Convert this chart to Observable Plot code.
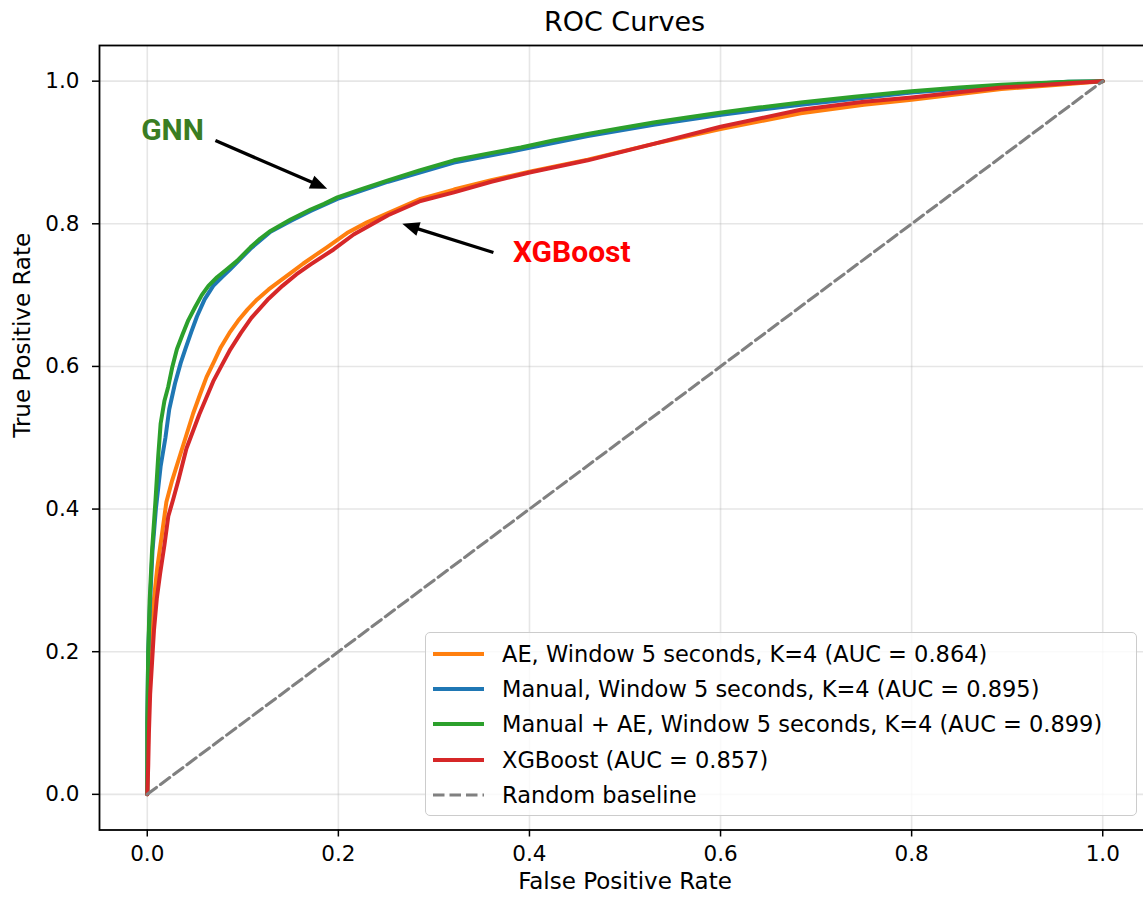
<!DOCTYPE html>
<html>
<head>
<meta charset="utf-8">
<script src="https://cdn.jsdelivr.net/npm/d3@7"></script>
<script src="https://cdn.jsdelivr.net/npm/@observablehq/plot@0.6"></script>
<style>
html,body{margin:0;padding:0;background:#fff;overflow:hidden}
#wrap{position:relative;width:1143px;height:902px;overflow:hidden;font-family:"DejaVu Sans",sans-serif;background:#fff}
#title{position:absolute;left:99px;width:1051px;top:0;height:40px;line-height:44px;text-align:center;font-size:27px;color:#000;white-space:nowrap}
#chart{position:absolute;left:0;top:40px;width:1151px}
#legend{position:absolute;left:425px;top:632px;width:712px;height:184px;border:1px solid #cccccc;border-radius:5px;background:rgba(255,255,255,0.8);box-sizing:border-box;padding-top:3px}
.row{height:35.4px;display:flex;align-items:center;font-size:22.5px;color:#000;white-space:nowrap}
.row svg{margin-left:7px;margin-right:18px;flex:none}
</style>
</head>
<body>
<div id="wrap">
  <div id="title"></div>
  <div id="chart"></div>
  <div id="legend"></div>
</div>
<script>
// ---------- data ----------
const titleText = "ROC Curves";
const xLabel = "False Positive Rate";
const yLabel = "True Positive Rate";
const ticks = [0, 0.2, 0.4, 0.6, 0.8, 1.0];

const seriesNames = [
  "AE, Window 5 seconds, K=4",
  "Manual, Window 5 seconds, K=4",
  "Manual + AE, Window 5 seconds, K=4",
  "XGBoost"
];
const seriesAUC = [0.864, 0.895, 0.899, 0.857];
const seriesColors = ["#ff7f0e", "#1f77b4", "#2ca02c", "#d62728"];

// AE
const fprAE = [0, 0.0008, 0.0016, 0.0033, 0.0068, 0.0105, 0.0155, 0.020, 0.026, 0.037, 0.048, 0.055, 0.062, 0.070, 0.077, 0.086, 0.095, 0.105, 0.115, 0.127, 0.139, 0.151, 0.163, 0.176, 0.188, 0.209, 0.230, 0.252, 0.286, 0.321, 0.360, 0.400, 0.461, 0.530, 0.600, 0.684, 0.750, 0.800, 0.894, 0.964, 1];
const tprAE = [0, 0.070, 0.132, 0.202, 0.272, 0.318, 0.366, 0.410, 0.440, 0.487, 0.534, 0.560, 0.585, 0.607, 0.627, 0.647, 0.664, 0.680, 0.694, 0.708, 0.720, 0.732, 0.744, 0.756, 0.767, 0.787, 0.802, 0.815, 0.835, 0.848, 0.861, 0.873, 0.890, 0.912, 0.933, 0.955, 0.967, 0.974, 0.989, 0.996, 1];

// Manual
const fprManual = [0, 0, 0.001, 0.003, 0.0055, 0.009, 0.014, 0.019, 0.023, 0.029, 0.035, 0.040, 0.046, 0.052, 0.060, 0.069, 0.078, 0.086, 0.094, 0.108, 0.129, 0.150, 0.171, 0.199, 0.252, 0.321, 0.391, 0.461, 0.530, 0.601, 0.684, 0.800, 0.894, 0.964, 1];
const tprManual = [0, 0.100, 0.200, 0.272, 0.342, 0.400, 0.460, 0.500, 0.540, 0.576, 0.605, 0.625, 0.648, 0.670, 0.694, 0.713, 0.725, 0.735, 0.746, 0.765, 0.789, 0.804, 0.818, 0.835, 0.859, 0.886, 0.904, 0.923, 0.939, 0.953, 0.967, 0.984, 0.994, 0.999, 1];

// Manual + AE
const fprManualAE = [0, 0, 0.001, 0.0025, 0.005, 0.0086, 0.0115, 0.014, 0.018, 0.022, 0.026, 0.031, 0.037, 0.043, 0.050, 0.057, 0.064, 0.073, 0.083, 0.094, 0.108, 0.118, 0.129, 0.150, 0.171, 0.185, 0.199, 0.225, 0.252, 0.285, 0.321, 0.355, 0.391, 0.425, 0.461, 0.495, 0.530, 0.565, 0.601, 0.640, 0.684, 0.740, 0.800, 0.850, 0.894, 0.930, 0.964, 1];
const tprManualAE = [0, 0.100, 0.200, 0.272, 0.342, 0.412, 0.475, 0.520, 0.552, 0.572, 0.598, 0.624, 0.645, 0.665, 0.683, 0.700, 0.713, 0.725, 0.736, 0.748, 0.767, 0.779, 0.790, 0.806, 0.820, 0.828, 0.837, 0.849, 0.861, 0.875, 0.889, 0.898, 0.907, 0.917, 0.926, 0.934, 0.942, 0.949, 0.956, 0.963, 0.970, 0.978, 0.986, 0.991, 0.995, 0.997, 0.999, 1];

// XGBoost
const fprXGB = [0, 0.001, 0.0017, 0.003, 0.005, 0.007, 0.010, 0.0135, 0.018, 0.022, 0.027, 0.0325, 0.041, 0.0545, 0.069, 0.0765, 0.087, 0.098, 0.109, 0.127, 0.1415, 0.156, 0.171, 0.195, 0.216, 0.252, 0.286, 0.321, 0.360, 0.400, 0.461, 0.530, 0.600, 0.684, 0.750, 0.800, 0.894, 0.964, 1];
const tprXGB = [0, 0.040, 0.085, 0.140, 0.185, 0.230, 0.275, 0.310, 0.350, 0.390, 0.413, 0.440, 0.485, 0.533, 0.579, 0.598, 0.624, 0.647, 0.668, 0.695, 0.713, 0.729, 0.743, 0.764, 0.785, 0.812, 0.832, 0.844, 0.859, 0.872, 0.889, 0.912, 0.936, 0.960, 0.971, 0.977, 0.991, 0.997, 1];

const baselineLabel = "Random baseline";
const baseFpr = [0, 1];
const baseTpr = [0, 1];

// annotations
const annTexts = ["GNN", "XGBoost"];
const annColors = ["#3a7d22", "#ff0000"];
const annX = [-0.0064, 0.3827];
const annY = [0.9307, 0.7597];
const arrowFromX = [0.0713, 0.3623];
const arrowFromY = [0.9167, 0.7597];
const arrowToX = [0.1883, 0.2669];
const arrowToY = [0.8490, 0.7999];

// ---------- build ----------
const fprs = [fprAE, fprManual, fprManualAE, fprXGB];
const tprs = [tprAE, tprManual, tprManualAE, tprXGB];
const seriesRows = seriesNames.map((name, i) => fprs[i].map((f, j) => ({series: name, fpr: f, tpr: tprs[i][j]})));
const baseRows = baseFpr.map((f, j) => ({fpr: f, tpr: baseTpr[j]}));

const W = 1151, H = 862, ML = 99, MR = 1, MT = 5, MB = 72.5;
const kx = (W - ML - MR) / 1.1, ky = (H - MT - MB) / 1.1;
const headL = 17, headW = 14;
const arrowHead = {
  draw(context) {
    context.moveTo(0, 0);
    context.lineTo(-headW / 2, headL);
    context.lineTo(headW / 2, headL);
    context.closePath();
  }
};
const arrows = arrowFromX.map((x1, i) => {
  const dxp = (arrowToX[i] - x1) * kx, dyp = -(arrowToY[i] - arrowFromY[i]) * ky;
  const len = Math.hypot(dxp, dyp), ux = dxp / len, uy = dyp / len;
  const back = headL - 3;
  return {
    x1, y1: arrowFromY[i], x2: arrowToX[i], y2: arrowToY[i],
    sx: arrowToX[i] - ux * back / kx, sy: arrowToY[i] + uy * back / ky,
    angle: Math.atan2(ux, -uy) * 180 / Math.PI
  };
});

document.getElementById("title").textContent = titleText;

const fmt = d3.format(".1f");
const plot = Plot.plot({
  width: W, height: H,
  marginLeft: ML, marginRight: MR, marginTop: MT, marginBottom: MB,
  style: {fontFamily: "'DejaVu Sans', sans-serif", fontSize: "21.5px", background: "white", overflow: "visible", maxWidth: "none", color: "#000"},
  x: {domain: [-0.05, 1.05], label: null},
  y: {domain: [-0.05, 1.05], label: null},
  marks: [
    Plot.gridX(ticks, {stroke: "#b0b0b0", strokeOpacity: 0.32, strokeWidth: 1.6}),
    Plot.gridY(ticks, {stroke: "#b0b0b0", strokeOpacity: 0.32, strokeWidth: 1.6}),
    ...seriesRows.map((rows, i) => Plot.line(rows, {x: "fpr", y: "tpr", stroke: seriesColors[i], strokeWidth: 4, strokeLinejoin: "round", strokeLinecap: "round"})),
    Plot.line(baseRows, {x: "fpr", y: "tpr", stroke: "#808080", strokeWidth: 3.1, strokeDasharray: "11.5,5"}),
    Plot.frame({stroke: "#000", strokeWidth: 1.8}),
    Plot.axisX(ticks, {tickSize: 7, tickPadding: 8.5, tickFormat: fmt, label: null, strokeWidth: 1.5, fontSize: 21.5}),
    Plot.axisY(ticks, {tickSize: 7, tickPadding: 13, tickFormat: fmt, label: null, strokeWidth: 1.5, fontSize: 21.5}),
    Plot.text([xLabel], {frameAnchor: "bottom", dy: 58.5, fontSize: 23, fill: "#000"}),
    Plot.text([yLabel], {frameAnchor: "left", dx: -77, rotate: -90, fontSize: 23, fill: "#000"}),
    ...annTexts.map((t, i) => Plot.text([t], {x: () => annX[i], y: () => annY[i], text: d => d, textAnchor: "start", fill: annColors[i], fontSize: 30, fontWeight: "bold", fontFamily: "Roboto, 'DejaVu Sans Condensed', sans-serif"})),
    Plot.link(arrows, {x1: "x1", y1: "y1", x2: "sx", y2: "sy", stroke: "#000", strokeWidth: 3.3}),
    Plot.dot(arrows, {x: "x2", y: "y2", rotate: "angle", symbol: arrowHead, fill: "#000", stroke: "none", r: 5})
  ]
});
document.getElementById("chart").appendChild(plot);

// legend
const legend = document.getElementById("legend");
const ns = "http://www.w3.org/2000/svg";
function addRow(label, color, dashed) {
  const row = document.createElement("div");
  row.className = "row";
  const svg = document.createElementNS(ns, "svg");
  svg.setAttribute("width", 51); svg.setAttribute("height", 10);
  const ln = document.createElementNS(ns, "line");
  ln.setAttribute("x1", 0); ln.setAttribute("x2", 51);
  ln.setAttribute("y1", 5); ln.setAttribute("y2", 5);
  ln.setAttribute("stroke", color);
  ln.setAttribute("stroke-width", dashed ? 3.1 : 4);
  if (dashed) ln.setAttribute("stroke-dasharray", "11.5,5");
  svg.appendChild(ln);
  row.appendChild(svg);
  const span = document.createElement("span");
  span.textContent = label;
  row.appendChild(span);
  legend.appendChild(row);
}
seriesNames.forEach((n, i) => addRow(`${n} (AUC = ${seriesAUC[i].toFixed(3)})`, seriesColors[i], false));
addRow(baselineLabel, "#808080", true);
</script>
</body>
</html>
